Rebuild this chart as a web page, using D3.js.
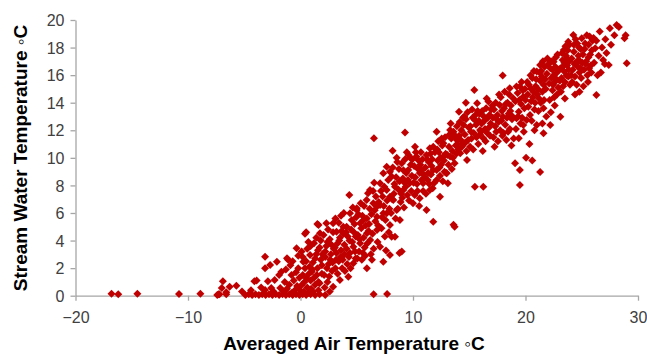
<!DOCTYPE html>
<html>
<head>
<meta charset="utf-8">
<script src="https://cdn.jsdelivr.net/npm/d3@7"></script>
<style>
  body { margin: 0; background: #fff; }
  .tick text { font-family: "Liberation Sans", Arial, sans-serif; font-size: 16px; fill: #404040; }
  .title { font-family: "Liberation Sans", Arial, sans-serif; font-size: 19px; font-weight: bold; fill: #000; }
</style>
</head>
<body>
<svg id="chart" width="647" height="358"></svg>
<script>
const xTicks = [-20, -10, 0, 10, 20, 30];
const yTicks = [0, 2, 4, 6, 8, 10, 12, 14, 16, 18, 20];
const xLabel = "Averaged Air Temperature \u25E6C";
const yLabel = "Stream Water Temperature \u25E6C";

// [air temp, water temp], slice by slice
const frozen = [[-16.8,0.15],[-16.2,0.1],[-14.5,0.15],[-10.8,0.12],[-8.9,0.15],[-7.4,0.05],[-7.2,0.1],[-6.6,0.1],
  [-4.9,0.05],[-4.6,0.1],[-4.3,0.05],[-4.0,0.1],[-3.7,0.05],[-3.4,0.1],[-3.1,0.05],[-2.8,0.1],[-2.5,0.05],
  [-2.2,0.1],[-1.9,0.05],[-1.6,0.1],[-1.3,0.05],[-1.0,0.1],[-0.7,0.05],[-0.4,0.1],[-0.1,0.05],[0.2,0.1],
  [0.5,0.05],[0.9,0.1],[1.3,0.05],[1.7,0.1],[2.2,0.05],[6.5,0.1],[7.7,0.12]];
const cold = [[-6.9,1.05],[-7.0,0.55],[-6.3,0.65],[-5.7,0.73],[-6.6,0.25],[-7.3,0.1],[-3.9,1.1],[-4.1,1.05],
  [-3.15,2.83],[-3.15,2.0],[-2.7,2.23],[-2.1,2.47],[-1.2,2.71],[-3.15,0.41],[-2.9,1.05],[-2.6,0.55],[-4.4,0.4],
  [-5.2,0.3],[-3.5,0.6],
  [-2.3,1.14],[-1.8,0.55],[-1.7,1.74],[-1.4,1.0],[-0.8,1.5],[-0.5,0.4],[-0.2,2.0],[-0.9,2.2],[-1.1,2.6],
  [-0.35,3.45],[-1.5,0.3],[-1.0,0.8],[-0.6,1.1],[-0.3,0.7],[-0.1,1.3],[-1.9,1.5],[-1.3,1.9],[-0.7,2.5],
  [-0.2,2.9],[-2.4,0.3],[-1.2,0.5],[-0.4,1.7],[-0.8,0.2],[-0.1,0.45]];
const cool = [[0.1,0.78],[0.55,1.26],[1.0,1.74],[0.25,2.47],[0.85,2.95],[0.4,4.5],[0.7,3.9],[0.5,4.6],[0.2,1.5],
  [0.3,0.3],[0.6,0.6],[0.8,2.1],[0.1,3.2],[0.4,2.0],[0.9,1.1],[0.7,0.2],[0.2,2.8],[0.6,3.4],[0.95,0.5],
  [0.35,1.0],[0.75,1.6],[0.15,0.2],[0.5,2.5],[0.9,3.6],
  [1.5,5.2],[1.6,5.13],[1.73,4.53],[1.1,2.4],[1.2,1.3],[1.3,0.8],[1.4,3.0],[1.5,2.0],[1.6,1.0],[1.7,3.5],
  [1.8,2.6],[1.9,1.6],[1.2,3.8],[1.4,4.2],[1.1,0.3],[1.6,0.4],[1.9,2.2],[1.3,2.7],[1.7,0.9],[1.8,4.0],
  [1.05,1.9],[1.55,3.3],[1.95,3.0],[1.45,1.5],
  [2.3,5.25],[2.9,5.25],[2.9,0.65],[2.1,1.5],[2.2,2.8],[2.3,3.6],[2.4,1.0],[2.5,2.3],[2.6,4.1],[2.7,3.0],
  [2.8,1.8],[2.9,4.6],[2.05,4.4],[2.45,4.8],[2.15,0.6],[2.55,1.4],[2.65,2.6],[2.75,3.7],[2.35,2.0],
  [2.85,2.4],[2.95,3.4],[2.2,3.2],[2.6,0.3],[2.4,3.9],
  [3.2,4.64],[3.8,5.0],[3.5,1.14],[3.1,2.0],[3.2,3.1],[3.3,3.8],[3.4,2.5],[3.5,4.2],[3.6,3.3],[3.7,2.0],
  [3.8,4.5],[3.9,3.0],[3.1,5.6],[3.4,5.3],[3.6,5.8],[3.9,3.7],[3.3,1.6],[3.75,2.6],[3.05,3.5],[3.55,2.8],
  [3.85,6.0],[3.45,4.0],[3.65,4.7],[3.15,2.6],[3.95,1.8]];
const mild = [[4.34,7.3],[4.4,5.98],[5.0,6.34],[4.25,1.38],[4.7,2.35],[4.7,3.56],[4.1,3.4],[4.2,4.3],[4.3,2.8],
  [4.5,4.8],[4.6,3.9],[4.8,5.2],[4.9,4.3],[4.1,5.0],[4.4,3.1],[4.55,5.5],[4.75,4.6],[4.85,3.2],[4.15,2.3],
  [4.65,6.4],[4.95,5.7],[4.35,4.0],[4.45,2.0],[4.05,4.6],[4.9,2.7],
  [5.3,5.25],[5.9,5.6],[5.9,1.99],[5.3,3.8],[5.9,4.53],[5.88,6.94],[5.0,6.22],[5.1,4.4],[5.2,3.2],[5.4,4.9],
  [5.5,5.8],[5.6,4.2],[5.7,3.5],[5.8,5.1],[5.15,5.9],[5.45,2.6],[5.65,6.5],[5.75,2.9],[5.25,4.1],
  [5.55,3.1],[5.35,6.7],[5.05,2.7],[5.95,3.8],[5.6,5.5],
  [6.0,7.43],[6.47,6.7],[6.8,5.73],[6.2,4.04],[6.8,4.77],[6.53,11.42],[6.18,7.67],[6.77,6.46],[6.1,5.2],
  [6.3,5.9],[6.4,4.5],[6.5,3.4],[6.6,6.2],[6.7,7.2],[6.9,5.1],[6.25,3.0],[6.45,7.6],[6.85,3.9],[6.15,6.3],
  [6.35,2.6],[6.95,6.8],[6.65,5.4],[6.05,4.7],[6.55,8.2],
  [7.07,8.16],[7.66,7.67],[7.66,5.98],[7.6,3.27],[7.36,2.47],[7.95,2.95],[7.07,3.56],[7.95,5.13],[7.07,6.58],
  [7.66,9.36],[7.36,8.88],[7.36,5.98],[7.95,7.18],[7.2,4.9],[7.3,7.2],[7.4,6.5],[7.5,4.3],[7.8,8.4],
  [7.9,6.3],[7.15,7.6],[7.45,7.9],[7.55,5.5],[7.85,4.6],[7.25,5.7],[7.7,6.9],[7.95,9.0]];
const warm = [[8.4,7.9],[8.25,6.94],[8.55,6.22],[8.1,4.28],[8.19,10.52],[8.1,8.64],[8.84,5.49],[8.8,3.1],[9.0,3.2],
  [8.4,4.28],[8.2,9.3],[8.3,7.4],[8.5,8.6],[8.6,9.7],[8.7,7.7],[8.8,8.3],[8.9,6.8],[8.45,5.6],[8.65,6.3],
  [8.35,8.1],[8.75,9.2],[8.15,7.0],[8.95,7.4],[8.55,10.0],[8.05,6.0],
  [9.29,11.83],[9.0,9.6],[9.58,9.12],[9.7,8.16],[9.14,7.67],[10.0,6.7],[9.1,8.5],[9.2,6.4],[9.3,9.9],
  [9.4,8.9],[9.5,7.3],[9.6,10.2],[9.8,9.5],[9.9,8.7],[9.35,7.9],[9.65,6.9],[9.85,7.6],[9.45,10.4],
  [9.15,9.1],[9.75,10.0],[9.55,8.4],[9.95,9.9],[9.25,8.2],[9.05,7.1],
  [10.18,10.81],[10.3,10.1],[10.8,9.12],[10.9,8.16],[10.6,7.07],[10.1,9.4],[10.2,8.6],[10.4,7.6],[10.5,9.8],
  [10.6,8.9],[10.7,10.4],[10.9,7.6],[10.35,8.1],[10.55,6.5],[10.75,8.4],[10.15,7.3],[10.45,9.2],
  [10.85,9.9],[10.25,10.4],[10.65,9.5],[10.95,8.8],[10.05,8.2],
  [11.5,10.7],[11.2,10.2],[11.5,7.67],[11.2,6.22],[11.8,5.37],[11.8,10.81],[11.8,9.12],[11.1,9.3],[11.3,8.4],
  [11.4,9.7],[11.6,8.8],[11.7,9.9],[11.9,8.2],[11.15,7.4],[11.35,8.9],[11.55,10.3],[11.75,7.8],
  [11.25,9.9],[11.65,9.4],[11.45,8.1],[11.95,10.4],[11.05,8.6],
  [12.1,11.9],[12.7,10.1],[12.1,9.12],[12.4,7.18],[12.7,11.06],[12.1,8.4],[12.2,9.8],[12.3,10.4],[12.4,8.7],
  [12.5,9.5],[12.6,10.9],[12.8,9.0],[12.9,10.3],[12.25,11.2],[12.45,10.0],[12.65,8.3],[12.85,11.5],
  [12.35,9.3],[12.75,9.8],[12.55,11.4],[12.95,8.9],[12.15,10.6],
  [13.3,12.02],[13.9,11.3],[13.0,8.88],[13.7,9.6],[13.3,10.09],[13.1,8.16],[13.7,5.0],[13.6,5.15],[13.2,10.8],
  [13.4,11.4],[13.5,10.5],[13.6,11.9],[13.8,10.9],[13.9,12.3],[13.15,9.5],[13.45,9.2],[13.75,11.6],
  [13.25,11.7],[13.55,10.0],[13.85,10.3],[13.05,10.2],[13.95,11.0],[13.35,12.5]];
const hot = [[14.09,13.35],[14.5,12.39],[14.2,10.33],[14.8,9.85],[14.7,14.0],[14.1,11.6],[14.3,12.0],[14.4,11.0],
  [14.6,11.7],[14.7,12.8],[14.9,11.3],[14.15,12.6],[14.35,10.8],[14.55,13.0],[14.75,10.5],[14.95,12.2],
  [14.25,11.3],[14.45,12.9],[14.65,11.1],[14.85,13.3],[14.05,10.6],
  [15.45,14.93],[15.7,13.96],[15.5,12.75],[15.96,12.02],[15.07,10.81],[15.5,7.91],[15.1,12.3],[15.2,11.4],
  [15.3,12.9],[15.4,11.8],[15.6,12.4],[15.8,11.0],[15.9,13.2],[15.25,13.5],[15.65,11.5],[15.85,12.7],
  [15.35,10.6],[15.75,13.4],[15.15,11.9],[15.55,13.1],[15.95,11.7],
  [16.7,14.08],[16.8,13.1],[16.25,11.42],[16.25,7.91],[16.1,12.5],[16.3,13.0],[16.4,12.1],[16.5,13.6],
  [16.6,11.8],[16.9,12.5],[16.15,13.4],[16.45,11.2],[16.65,12.9],[16.85,11.6],[16.35,12.7],[16.55,14.3],
  [16.75,12.2],[16.05,11.9],[16.95,13.5],[16.2,10.5],
  [17.97,15.97],[17.7,13.84],[18.0,12.99],[17.4,11.9],[17.1,12.9],[17.2,13.5],[17.3,12.3],[17.5,13.1],
  [17.6,12.6],[17.8,14.4],[17.9,13.4],[17.15,11.5],[17.35,14.0],[17.55,11.2],[17.75,12.0],[17.45,12.8],
  [17.65,14.6],[17.85,12.7],[17.05,13.8],[17.25,10.8],[17.95,11.6],
  [18.6,15.05],[18.9,14.32],[18.3,11.3],[18.1,13.6],[18.2,12.4],[18.4,14.0],[18.5,13.2],[18.6,12.1],
  [18.7,13.8],[18.8,12.8],[18.95,11.4],[18.15,14.8],[18.35,12.9],[18.45,11.9],[18.55,14.6],[18.65,13.4],
  [18.75,10.9],[18.85,13.0],[18.25,13.9],[18.05,11.8],
  [19.5,15.17],[20.0,14.2],[19.2,12.87],[19.4,11.42],[19.07,9.6],[19.5,9.12],[19.5,8.03],[19.2,15.17],
  [19.8,14.44],[19.4,13.35],[19.8,12.39],[19.1,14.1],[19.3,14.7],[19.6,13.9],[19.7,12.9],[19.9,13.6],
  [19.15,12.1],[19.45,14.2],[19.65,15.5],[19.85,11.9],[19.35,13.0],[19.75,14.9],[19.55,12.5],[19.95,15.0]];
const summer = [[20.1,12.75],[20.4,13.11],[21.0,16.26],[21.0,12.39],[20.2,14.6],[20.3,15.3],[20.5,14.1],[20.6,15.8],
  [20.7,14.8],[20.8,13.5],[20.9,15.2],[20.25,13.7],[20.45,16.0],[20.55,12.7],[20.65,14.4],[20.75,16.3],
  [20.85,14.0],[20.95,15.7],[20.15,15.5],[20.35,11.0],[20.05,10.0],[20.6,9.8],[20.8,12.0],[20.5,15.0],
  [21.3,16.74],[21.6,13.6],[21.6,11.79],[21.3,8.97],[21.1,15.0],[21.2,14.3],[21.3,15.6],[21.4,16.3],
  [21.5,14.8],[21.6,15.3],[21.7,16.6],[21.8,15.0],[21.9,16.1],[21.15,13.4],[21.35,14.0],[21.45,15.9],
  [21.55,17.0],[21.65,14.2],[21.75,15.7],[21.85,13.0],[21.95,17.2],[21.25,16.2],[21.05,14.6],[21.5,12.5],
  [22.5,16.98],[22.2,12.39],[22.1,15.4],[22.2,16.5],[22.3,15.8],[22.4,14.9],[22.5,16.0],[22.6,15.5],
  [22.7,17.3],[22.8,16.2],[22.9,15.1],[22.15,14.2],[22.35,17.0],[22.45,15.3],[22.55,14.4],[22.65,16.6],
  [22.75,15.7],[22.85,17.5],[22.95,16.4],[22.25,13.3],[22.05,16.8],[22.6,13.8],[22.4,16.4],[22.8,14.6],
  [23.4,17.83],[23.8,18.43],[23.1,12.99],[23.1,16.5],[23.2,15.8],[23.3,17.1],[23.4,16.3],[23.5,15.5],
  [23.6,17.4],[23.7,16.7],[23.8,15.9],[23.9,17.0],[23.15,14.8],[23.25,17.6],[23.35,15.2],[23.45,16.9],
  [23.55,18.1],[23.65,16.0],[23.75,17.8],[23.85,16.4],[23.95,15.3],[23.05,15.6],[23.5,14.3],[23.7,17.2],
  [23.3,16.6],[23.9,18.2],
  [24.25,18.92],[25.0,18.68],[24.1,17.2],[24.2,16.4],[24.3,17.7],[24.4,15.9],[24.5,16.9],[24.6,18.3],
  [24.7,17.4],[24.8,16.2],[24.9,17.9],[24.15,15.5],[24.35,16.8],[24.45,18.6],[24.55,15.3],[24.65,16.6],
  [24.75,18.0],[24.85,17.0],[24.95,15.8],[24.05,16.0],[24.4,14.6],[24.8,14.8],[24.3,18.2],[24.6,17.0],
  [24.9,16.5],
  [25.6,18.2],[25.1,17.5],[25.2,16.4],[25.3,18.3],[25.4,17.0],[25.5,16.0],[25.6,17.3],[25.7,18.8],
  [25.8,16.7],[25.9,17.8],[25.15,15.2],[25.35,16.8],[25.45,18.9],[25.55,15.5],[25.75,17.5],[25.85,16.2],
  [25.95,18.5],[25.25,17.9],[25.65,16.5],[25.05,16.9],
  [26.6,19.16],[26.2,17.95],[26.3,14.56],[27.5,19.4],[27.4,16.74],[28.1,19.64],[28.8,18.68],[29.0,16.87],
  [26.1,16.9],[26.3,18.5],[26.5,17.4],[26.7,16.2],[26.8,18.0],[26.9,17.1],[27.1,18.6],[27.2,17.6],
  [27.6,18.2],[27.9,18.9],[28.3,19.5],[28.9,18.9],[26.05,18.7],[26.4,16.0],[27.05,16.8]];

const points = [].concat(frozen, cold, cool, mild, warm, hot, summer);

const svg = d3.select("#chart");

const x = d3.scaleLinear().domain([-20, 30]).range([75.5, 638]);
const y = d3.scaleLinear().domain([0, 20]).range([295.7, 20]);

// axes: gray lines, outward ticks
const xAxis = svg.append("g")
  .attr("transform", "translate(0," + y(0) + ")")
  .call(d3.axisBottom(x).tickValues(xTicks).tickSize(5).tickPadding(8).tickSizeOuter(0));
const yAxis = svg.append("g")
  .attr("transform", "translate(" + x(-20) + ",0)")
  .call(d3.axisLeft(y).tickValues(yTicks).tickSize(5).tickPadding(6).tickSizeOuter(0));

[xAxis, yAxis].forEach(function(g) {
  g.select(".domain").attr("stroke", "#a6a6a6").attr("stroke-width", 1.3);
  g.selectAll(".tick line").attr("stroke", "#a6a6a6").attr("stroke-width", 1.3);
  g.attr("font-family", null).attr("font-size", null);
});
xAxis.selectAll(".tick text").attr("dy", "0.9em");
yAxis.selectAll(".tick text").attr("dy", "0.35em");

// markers
const diamond = "M0,-4L4,0L0,4L-4,0Z";
svg.append("g")
  .selectAll("path")
  .data(points)
  .join("path")
  .attr("d", diamond)
  .attr("transform", d => "translate(" + x(d[0]) + "," + y(d[1]) + ")")
  .attr("fill", "#c00000");

// titles
svg.append("text")
  .attr("class", "title")
  .attr("x", 354)
  .attr("y", 350)
  .attr("text-anchor", "middle")
  .text(xLabel);

svg.append("text")
  .attr("class", "title")
  .attr("transform", "translate(27,158) rotate(-90)")
  .attr("text-anchor", "middle")
  .text(yLabel);
</script>
</body>
</html>
